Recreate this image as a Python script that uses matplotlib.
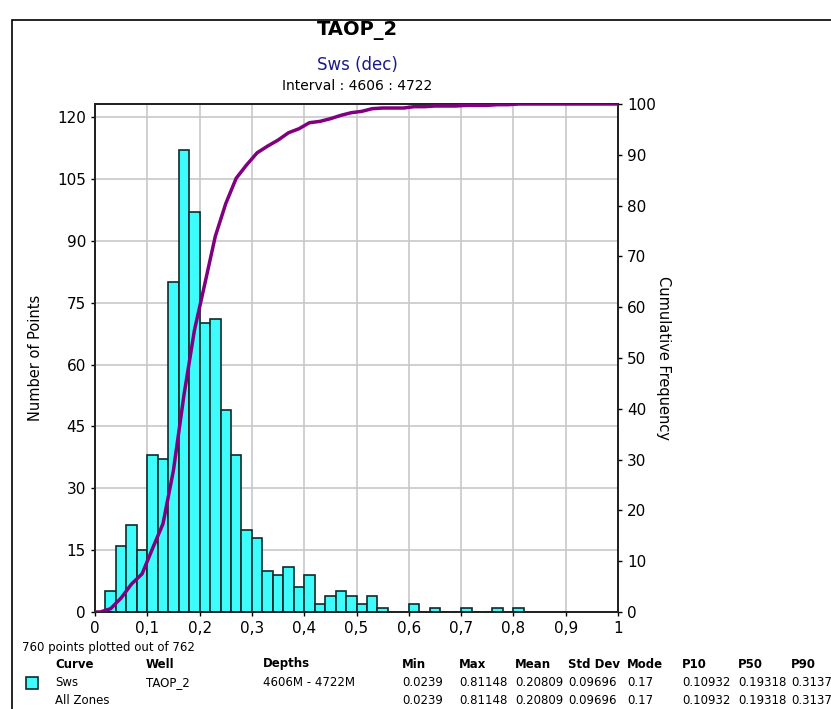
import numpy as np
import matplotlib
matplotlib.use('Agg')
from matplotlib import pyplot as plt
from matplotlib.patches import Rectangle

# histogram of Sws, bin width 0.02 from 0 to 1
bin_left = [round(i * 0.02, 2) for i in range(50)]
counts = [0, 5, 16, 21, 15, 38, 37, 80, 112, 97,
          70, 71, 49, 38, 20, 18, 10, 9, 11, 6,
          9, 2, 4, 5, 4, 2, 4, 1, 0, 0,
          2, 0, 1, 0, 0, 1, 0, 0, 1, 0,
          1, 0, 0, 0, 0, 0, 0, 0, 0, 0]

x_ticks = [0, 0.1, 0.2, 0.3, 0.4, 0.5, 0.6, 0.7, 0.8, 0.9, 1]
x_ticklabels = ['0', '0,1', '0,2', '0,3', '0,4', '0,5', '0,6', '0,7', '0,8', '0,9', '1']
y_ticks = [0, 15, 30, 45, 60, 75, 90, 105, 120]
cum_ticks = [0, 10, 20, 30, 40, 50, 60, 70, 80, 90, 100]

headers = ['Curve', 'Well', 'Depths', 'Min', 'Max', 'Mean', 'Std Dev', 'Mode', 'P10', 'P50', 'P90']
row_sws = ['Sws', 'TAOP_2', '4606M - 4722M', '0.0239', '0.81148', '0.20809', '0.09696', '0.17', '0.10932', '0.19318', '0.3137']
row_all = ['All Zones', '', '', '0.0239', '0.81148', '0.20809', '0.09696', '0.17', '0.10932', '0.19318', '0.3137']
col_x = [55, 146, 263, 402, 459, 515, 568, 627, 682, 738, 791]

W, H = 831, 709
fig = plt.figure(figsize=(W / 100, H / 100), dpi=100)
plt.rcParams['font.family'] = ['DejaVu Sans']

# outer frame
fig.patches.append(Rectangle((12 / W, -0.1), 1.2, 1 - 20 / H + 0.1, transform=fig.transFigure,
                             fill=False, edgecolor='black', lw=1.2))

ax = fig.add_axes([95 / W, 1 - 612 / H, 523 / W, 508 / H])
width = 0.02
ax.bar(bin_left, counts, width=width, align='edge', color='#3ffcfc',
       edgecolor='#0d2b2b', linewidth=1.2, zorder=2)
ax.set_xlim(0, 1)
ax.set_ylim(0, 123.2)
ax.set_xticks(x_ticks)
ax.set_xticklabels(x_ticklabels)
ax.set_yticks(y_ticks)
ax.grid(True, color='#c8c8c8', linewidth=1.2, zorder=0)
ax.set_axisbelow(True)
ax.tick_params(labelsize=11, length=3, width=1, colors='black')
ax.set_ylabel('Number of Points', fontsize=10.5, labelpad=10)
for s in ax.spines.values():
    s.set_linewidth(1.3)
    s.set_color('#222222')

# cumulative frequency at bin centres
total = sum(counts)
centres = np.array(bin_left) + width / 2
cum = np.cumsum(counts) / total * 100
cx = np.concatenate([[0], centres, [1]])
cy = np.concatenate([[0], cum, [100]])

ax2 = ax.twinx()
ax2.plot(cx, cy, color='#800080', linewidth=2.5, zorder=3)
ax2.set_ylim(0, 100)
ax2.set_yticks(cum_ticks)
ax2.tick_params(labelsize=11, length=3, width=1)
ax2.set_ylabel('Cumulative Frequency', fontsize=10.5, rotation=270, labelpad=11)
for s in ax2.spines.values():
    s.set_linewidth(1.3)
    s.set_color('#222222')

# titles
fig.text(357 / W, 1 - 30 / H, 'TAOP_2', ha='center', va='center', fontsize=14, fontweight='bold')
fig.text(357 / W, 1 - 65 / H, 'Sws (dec)', ha='center', va='center', fontsize=12, color='#1a1a8c')
fig.text(357 / W, 1 - 86 / H, 'Interval : 4606 : 4722', ha='center', va='center', fontsize=10)

# stats table
fig.text(22 / W, 1 - 648 / H, '760 points plotted out of 762', ha='left', va='center', fontsize=8.5)
for x, h in zip(col_x, headers):
    fig.text(x / W, 1 - 664 / H, h, ha='left', va='center', fontsize=8.5, fontweight='bold')
for x, v in zip(col_x, row_sws):
    fig.text(x / W, 1 - 683 / H, v, ha='left', va='center', fontsize=8.5)
for x, v in zip(col_x, row_all):
    fig.text(x / W, 1 - 701 / H, v, ha='left', va='center', fontsize=8.5)
fig.patches.append(Rectangle((26 / W, 1 - 689 / H), 12 / W, 12 / H, transform=fig.transFigure,
                             facecolor='#3ffcfc', edgecolor='#0d2b2b', lw=1.2))

fig.savefig('out.png', dpi=100)
